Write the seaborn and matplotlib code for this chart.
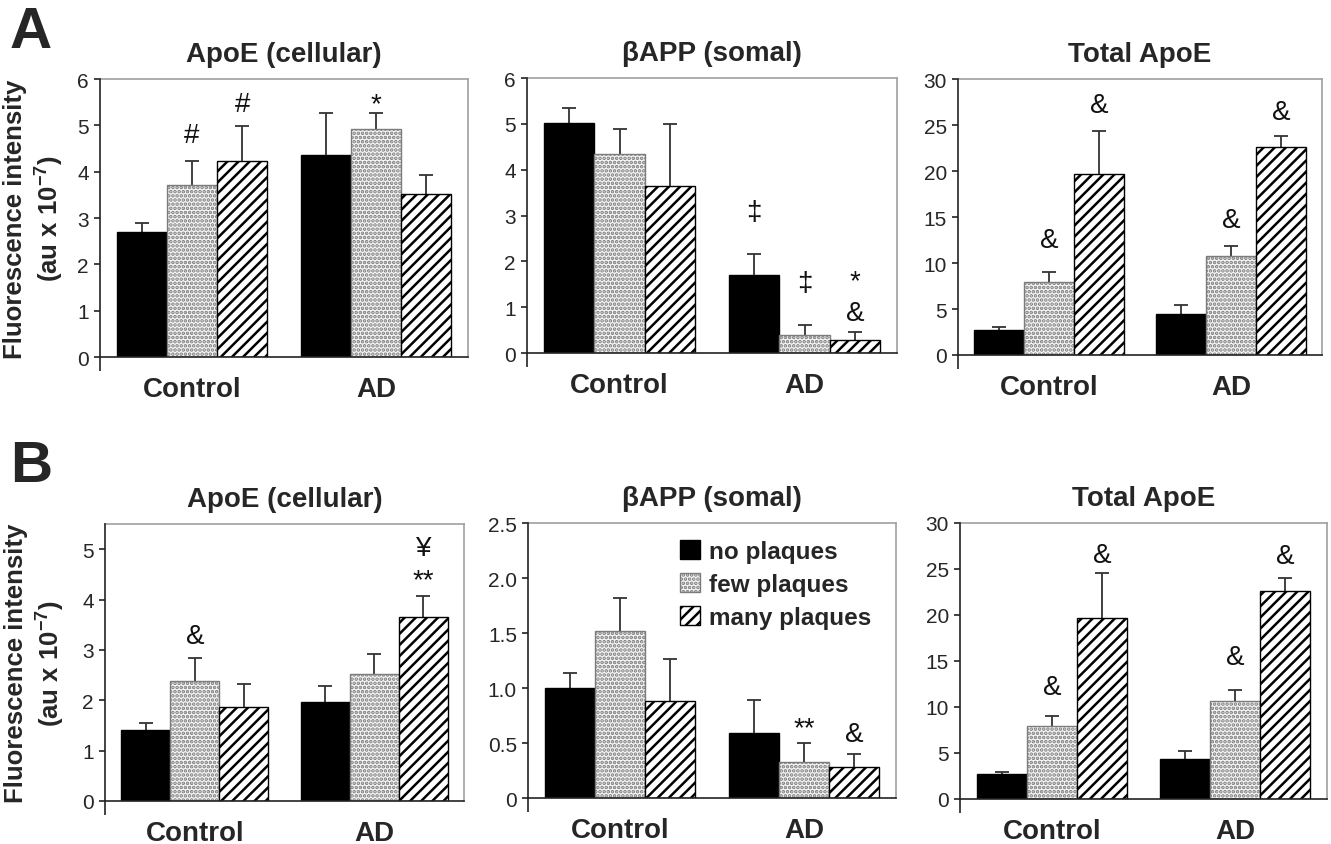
import pandas as pd
import seaborn as sns
import matplotlib.pyplot as plt

groups = ["Control", "AD"]
plaques = ["no plaques", "few plaques", "many plaques"]

# panel A  (rows: Control, AD ; cols: no / few / many plaques)
a1_mean = [[2.70, 3.72, 4.23], [4.36, 4.93, 3.52]]
a1_err = [[0.20, 0.51, 0.76], [0.90, 0.33, 0.40]]
a2_mean = [[5.03, 4.35, 3.64], [1.70, 0.39, 0.28]]
a2_err = [[0.31, 0.53, 1.35], [0.47, 0.23, 0.18]]
a3_mean = [[2.75, 7.95, 19.7], [4.45, 10.8, 22.6]]
a3_err = [[0.25, 1.10, 4.70], [0.95, 1.05, 1.20]]

# panel B
b1_mean = [[1.40, 2.38, 1.87], [1.97, 2.52, 3.65]]
b1_err = [[0.14, 0.45, 0.46], [0.31, 0.40, 0.42]]
b2_mean = [[1.00, 1.52, 0.885], [0.59, 0.33, 0.28]]
b2_err = [[0.14, 0.30, 0.38], [0.30, 0.17, 0.12]]
b3_mean = [[2.72, 7.97, 19.65], [4.35, 10.7, 22.65]]
b3_err = [[0.20, 1.10, 4.90], [0.90, 1.15, 1.35]]

# significance marks: (group index, plaque index, text, y of text anchor)
a1_notes = [(0, 1, "#", 4.65), (0, 2, "#", 5.32), (1, 1, "*", 5.30)]
a2_notes = [(1, 0, "\u2021", 2.93), (1, 1, "\u2021", 1.37), (1, 2, "*\n&", 0.72)]
a3_notes = [(0, 1, "&", 11.7), (0, 2, "&", 26.4), (1, 1, "&", 13.9), (1, 2, "&", 25.6)]
b1_notes = [(0, 1, "&", 3.14), (1, 2, "\u00a5\n**", 4.25)]
b2_notes = [(1, 1, "**", 0.57), (1, 2, "&", 0.52)]
b3_notes = [(0, 1, "&", 11.4), (0, 2, "&", 25.8), (1, 1, "&", 14.7), (1, 2, "&", 25.7)]

sns.set_style("ticks")
plt.rcParams["font.family"] = ["Liberation Sans", "DejaVu Sans"]
plt.rcParams["mathtext.fontset"] = "custom"
plt.rcParams["mathtext.rm"] = "Liberation Sans"
plt.rcParams["mathtext.bf"] = "Liberation Sans:bold"
plt.rcParams["hatch.linewidth"] = 1.8

fills = ["black", "#f6f6f6", "white"]
hatches = [None, "....", "///"]
edges = ["black", "#7c7c7c", "black"]


def panel(rect, title, means, errs, ymax, ticks, ticklabels, notes, ylabel=None, lab_x=-0.1, legend=False):
    ax = fig.add_axes(rect)
    df = pd.DataFrame({
        "group": [g for g in groups for p in plaques],
        "plaque": [p for g in groups for p in plaques],
        "value": [means[i][j] for i in range(2) for j in range(3)],
    })
    sns.barplot(data=df, x="group", y="value", hue="plaque", order=groups, hue_order=plaques,
                palette=fills, saturation=1, width=0.82, gap=0, errorbar=None,
                legend=False, linewidth=1.0, edgecolor="black", ax=ax, zorder=2)
    bars = list(ax.containers)
    for k, cont in enumerate(bars):
        for i, bar in enumerate(cont):
            bar.set_facecolor(fills[k])
            bar.set_edgecolor(edges[k])
            if hatches[k]:
                bar.set_hatch(hatches[k])
            x = bar.get_x() + bar.get_width() / 2
            # lower half hides behind the bar, like the spreadsheet original
            ax.errorbar(x, bar.get_height(), yerr=errs[i][k], fmt="none",
                        ecolor="#333333", elinewidth=1.3, capsize=5, capthick=1.3, zorder=1)
    for gi, pi, txt, y in notes:
        bar = bars[pi][gi]
        ax.text(bar.get_x() + bar.get_width() / 2, y, txt, ha="center", va="baseline",
                fontsize=20, color="#111111", linespacing=1.3, multialignment="center")
    ax.set_ylim(0, ymax)
    ax.set_xlim(-0.5, 1.5)
    ax.set_yticks(ticks)
    ax.set_yticklabels(ticklabels, fontsize=15)
    ax.set_xticks([0, 1])
    ax.set_xticklabels(groups, fontsize=20, fontweight="bold")
    ax.set_xticks([-0.5], minor=True)
    ax.tick_params(axis="x", which="major", length=0, pad=14)
    ax.tick_params(axis="x", which="minor", length=10, width=1.2, color="#222222")
    ax.tick_params(axis="y", length=4, width=1.2, pad=4, color="#222222")
    ax.set_xlabel("")
    for s in ["top", "right"]:
        ax.spines[s].set_color("#a0a0a0")
        ax.spines[s].set_linewidth(1.2)
    for s in ["left", "bottom"]:
        ax.spines[s].set_color("#222222")
        ax.spines[s].set_linewidth(1.2)
        ax.spines[s].set_zorder(3)
    ax.set_title(title, fontsize=20, fontweight="bold", pad=13)
    if ylabel:
        ax.set_ylabel(ylabel, fontsize=18.5, fontweight="bold", linespacing=1.2)
        ax.yaxis.set_label_coords(lab_x, 0.5)
    else:
        ax.set_ylabel("")
    if legend:
        ax.legend(handles=bars, labels=plaques, loc="upper left",
                  bbox_to_anchor=(0.40, 0.957), frameon=False, borderpad=0.2, borderaxespad=0,
                  handlelength=0.8, handleheight=0.8, handletextpad=0.4, labelspacing=0.42,
                  prop={"size": 17.5, "weight": "bold"})
    return ax


fig = plt.figure(figsize=(13.31, 8.45), dpi=100)
ylab = "Fluorescence intensity\n(au x 10$^{\\mathbf{-7}}$)"

panel([0.0751, 0.5763, 0.2765, 0.329], "ApoE (cellular)", a1_mean, a1_err, 6,
      range(7), [str(v) for v in range(7)], a1_notes, ylabel=ylab, lab_x=-0.095)
panel([0.396, 0.581, 0.278, 0.3254], "\u03b2APP (somal)", a2_mean, a2_err, 6,
      range(7), [str(v) for v in range(7)], a2_notes)
panel([0.7198, 0.5787, 0.2735, 0.3266], "Total ApoE", a3_mean, a3_err, 30,
      range(0, 31, 5), [str(v) for v in range(0, 31, 5)], a3_notes)

panel([0.0789, 0.0509, 0.2697, 0.3278], "ApoE (cellular)", b1_mean, b1_err, 5.5,
      range(6), [str(v) for v in range(6)], b1_notes, ylabel=ylab, lab_x=-0.11)
panel([0.3967, 0.0544, 0.2765, 0.3254], "\u03b2APP (somal)", b2_mean, b2_err, 2.5,
      [0, 0.5, 1.0, 1.5, 2.0, 2.5], ["0", "0.5", "1.0", "1.5", "2.0", "2.5"], b2_notes, legend=True)
panel([0.7213, 0.0533, 0.2757, 0.3266], "Total ApoE", b3_mean, b3_err, 30,
      range(0, 31, 5), [str(v) for v in range(0, 31, 5)], b3_notes)

fig.text(0.0075, 0.943, "A", fontsize=42, fontweight="bold", va="baseline")
fig.text(0.0075, 0.4296, "B", fontsize=42, fontweight="bold", va="baseline")

fig.savefig("out.png", dpi=100)
